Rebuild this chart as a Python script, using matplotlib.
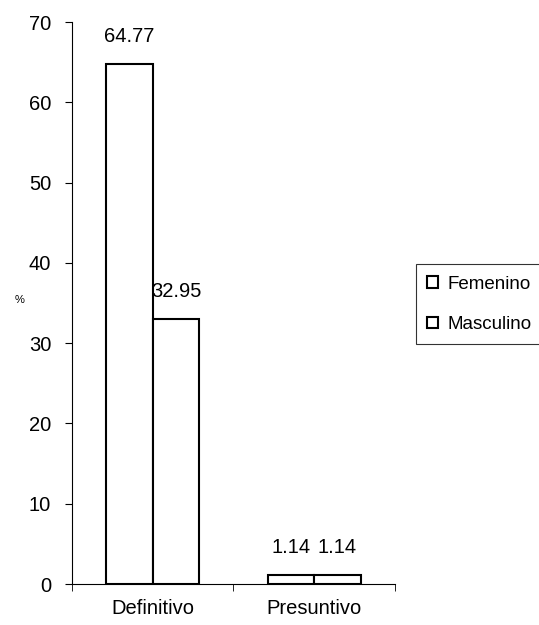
import numpy as np
import matplotlib.pyplot as plt

plt.rcParams['font.family'] = ['Liberation Sans', 'DejaVu Sans']

categories = ['Definitivo', 'Presuntivo']
series = ['Femenino', 'Masculino']
femenino = [64.77, 1.14]
masculino = [32.95, 1.14]

fig = plt.figure(figsize=(5.39, 6.25), dpi=100)
ax = fig.add_axes([0.1336, 0.0656, 0.5992, 0.8992])

x = np.arange(len(categories))
w = 0.288
b1 = ax.bar(x - w / 2, femenino, w, color='white', edgecolor='black',
            linewidth=1.5, label=series[0])
b2 = ax.bar(x + w / 2, masculino, w, color='white', edgecolor='black',
            linewidth=1.5, label=series[1])

for bars, vals in ((b1, femenino), (b2, masculino)):
    for r, v in zip(bars, vals):
        ax.annotate('%.2f' % v, (r.get_x() + r.get_width() / 2, v),
                    xytext=(0, 20), textcoords='offset points',
                    ha='center', va='center', fontsize=14.5)

ax.set_xlim(-0.5, 1.5)
ax.set_ylim(0, 70)
ax.set_yticks(range(0, 71, 10))
ax.set_xticks(x)
ax.set_xticklabels(categories, fontsize=14.5)
ax.set_xticks([-0.5, 0.5, 1.5], minor=True)
ax.tick_params(axis='x', which='major', length=0, pad=11)
ax.tick_params(axis='x', which='minor', length=5, direction='out')
ax.tick_params(axis='y', length=5, direction='out', labelsize=14.5, pad=10)

ax.spines['top'].set_visible(False)
ax.spines['right'].set_visible(False)
ax.spines['left'].set_linewidth(0.8)
ax.spines['bottom'].set_linewidth(0.8)

fig.text(0.037, 0.52, '%', fontsize=8, ha='center', va='center')

leg = fig.legend(loc='upper left', bbox_to_anchor=(0.772, 0.577),
                 fontsize=13.5, handlelength=0.55, handleheight=0.55,
                 handletextpad=0.5, borderpad=0.6, labelspacing=1.25,
                 fancybox=False, frameon=True, borderaxespad=0)
leg.get_frame().set_edgecolor('black')
leg.get_frame().set_linewidth(0.8)

fig.savefig('out.png', dpi=100)
